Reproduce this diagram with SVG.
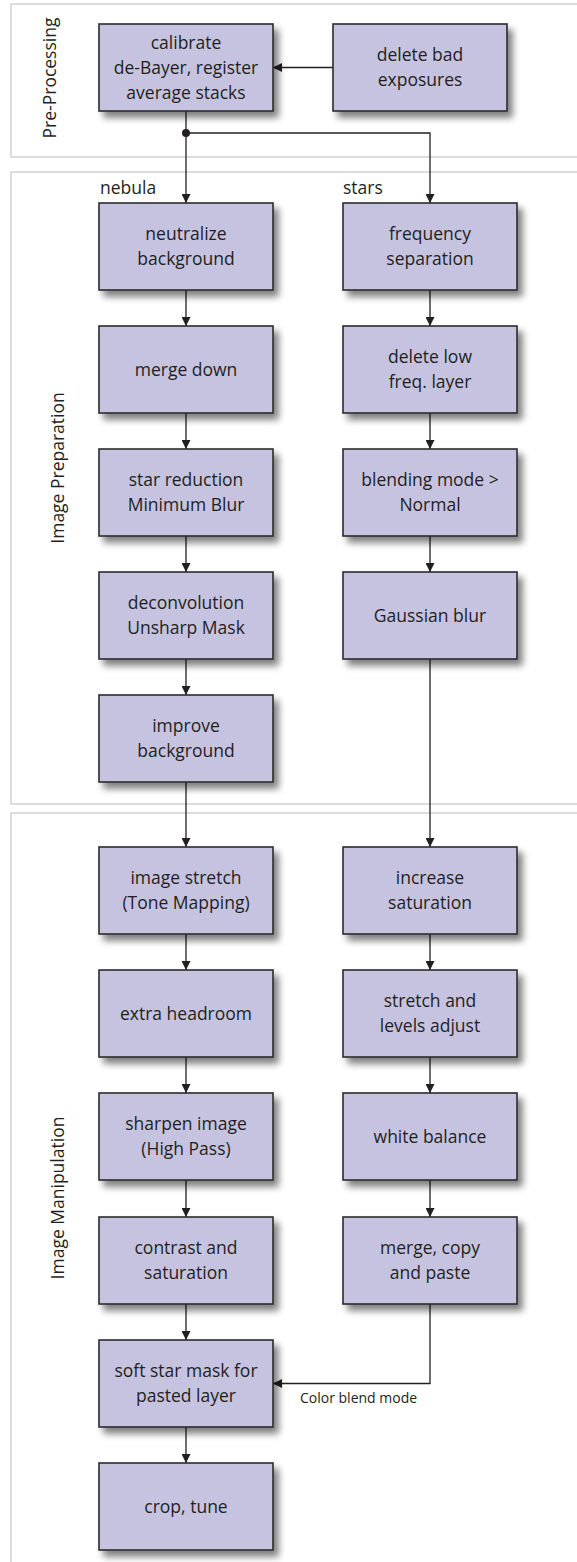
<svg xmlns="http://www.w3.org/2000/svg" width="577" height="1562" viewBox="0 0 577 1562">
<style>
.panel{fill:#fff;stroke:#dcdcdc;stroke-width:2}
.box{fill:#c6c3e0;stroke:#2b2b2b;stroke-width:1.6}
.t{font-family:"Open Sans","Noto Sans",sans-serif;font-size:17.5px;fill:#231f20;text-anchor:middle}
.pl{font-family:"Open Sans","Noto Sans",sans-serif;font-size:17.5px;fill:#231f20;text-anchor:middle}
.lb{font-family:"Open Sans","Noto Sans",sans-serif;font-size:17.5px;fill:#231f20}
.sm{font-family:"Open Sans","Noto Sans",sans-serif;font-size:14px;fill:#231f20}
.c{fill:none;stroke:#231f20;stroke-width:1.3}
</style>
<defs>
<filter id="sh" x="-20%" y="-20%" width="150%" height="160%">
<feGaussianBlur in="SourceAlpha" stdDeviation="3.5"/>
<feOffset dx="5" dy="6" result="b"/>
<feComponentTransfer><feFuncA type="linear" slope="0.5"/></feComponentTransfer>
<feMerge><feMergeNode/><feMergeNode in="SourceGraphic"/></feMerge>
</filter>
<marker id="ah" viewBox="0 0 10 10" refX="10" refY="5" markerWidth="10" markerHeight="9" markerUnits="userSpaceOnUse" orient="auto">
<path d="M0,0 L10,5 L0,10 Z" fill="#231f20"/>
</marker>
</defs>
<rect width="577" height="1562" fill="#fff"/>
<g id="panels">
<rect class="panel" x="11" y="4" width="600" height="153"/>
<rect class="panel" x="11" y="172" width="600" height="632"/>
<rect class="panel" x="11" y="813" width="600" height="800"/>
<text class="pl" transform="translate(56,78) rotate(-90)">Pre-Processing</text>
<text class="pl" transform="translate(64,468) rotate(-90)">Image Preparation</text>
<text class="pl" transform="translate(64,1198) rotate(-90)">Image Manipulation</text>
<text class="lb" x="100" y="194">nebula</text>
<text class="lb" x="343" y="194">stars</text>
</g>
<g id="connectors">
<line class="c" x1="333" y1="67.5" x2="273" y2="67.5" marker-end="url(#ah)"/>
<polyline class="c" points="186,111 186,203" marker-end="url(#ah)"/>
<polyline class="c" points="186,133 430,133 430,203" marker-end="url(#ah)"/>
<circle cx="186" cy="133" r="4" fill="#231f20"/>
<line class="c" x1="186" y1="290" x2="186" y2="326" marker-end="url(#ah)"/>
<line class="c" x1="186" y1="413" x2="186" y2="449" marker-end="url(#ah)"/>
<line class="c" x1="186" y1="536" x2="186" y2="572" marker-end="url(#ah)"/>
<line class="c" x1="186" y1="659" x2="186" y2="695" marker-end="url(#ah)"/>
<line class="c" x1="186" y1="782" x2="186" y2="847" marker-end="url(#ah)"/>
<line class="c" x1="430" y1="290" x2="430" y2="326" marker-end="url(#ah)"/>
<line class="c" x1="430" y1="413" x2="430" y2="449" marker-end="url(#ah)"/>
<line class="c" x1="430" y1="536" x2="430" y2="572" marker-end="url(#ah)"/>
<line class="c" x1="430" y1="659" x2="430" y2="847" marker-end="url(#ah)"/>
<line class="c" x1="186" y1="934" x2="186" y2="970" marker-end="url(#ah)"/>
<line class="c" x1="186" y1="1057" x2="186" y2="1093" marker-end="url(#ah)"/>
<line class="c" x1="186" y1="1180" x2="186" y2="1217" marker-end="url(#ah)"/>
<line class="c" x1="186" y1="1304" x2="186" y2="1340" marker-end="url(#ah)"/>
<line class="c" x1="186" y1="1427" x2="186" y2="1463" marker-end="url(#ah)"/>
<line class="c" x1="430" y1="934" x2="430" y2="970" marker-end="url(#ah)"/>
<line class="c" x1="430" y1="1057" x2="430" y2="1093" marker-end="url(#ah)"/>
<line class="c" x1="430" y1="1180" x2="430" y2="1217" marker-end="url(#ah)"/>
<polyline class="c" points="430,1304 430,1383.5 273,1383.5" marker-end="url(#ah)"/>
<text class="sm" x="300" y="1403">Color blend mode</text>
</g>
<g id="n-calibrate"><rect class="box" filter="url(#sh)" x="99" y="24" width="174" height="87"/><text class="t" x="186" y="49">calibrate</text><text class="t" x="186" y="74">de-Bayer, register</text><text class="t" x="186" y="99">average stacks</text></g>
<g id="n-delete"><rect class="box" filter="url(#sh)" x="333" y="24" width="174" height="87"/><text class="t" x="420" y="61">delete bad</text><text class="t" x="420" y="86">exposures</text></g>
<g id="n-neutralize"><rect class="box" filter="url(#sh)" x="99" y="203" width="174" height="87"/><text class="t" x="186" y="240">neutralize</text><text class="t" x="186" y="265">background</text></g>
<g id="n-merge-down"><rect class="box" filter="url(#sh)" x="99" y="326" width="174" height="87"/><text class="t" x="186" y="376">merge down</text></g>
<g id="n-star-reduction"><rect class="box" filter="url(#sh)" x="99" y="449" width="174" height="87"/><text class="t" x="186" y="486">star reduction</text><text class="t" x="186" y="511">Minimum Blur</text></g>
<g id="n-deconvolution"><rect class="box" filter="url(#sh)" x="99" y="572" width="174" height="87"/><text class="t" x="186" y="609">deconvolution</text><text class="t" x="186" y="634">Unsharp Mask</text></g>
<g id="n-improve"><rect class="box" filter="url(#sh)" x="99" y="695" width="174" height="87"/><text class="t" x="186" y="732">improve</text><text class="t" x="186" y="757">background</text></g>
<g id="n-freq"><rect class="box" filter="url(#sh)" x="343" y="203" width="174" height="87"/><text class="t" x="430" y="240">frequency</text><text class="t" x="430" y="265">separation</text></g>
<g id="n-delete-low"><rect class="box" filter="url(#sh)" x="343" y="326" width="174" height="87"/><text class="t" x="430" y="363">delete low</text><text class="t" x="430" y="388">freq. layer</text></g>
<g id="n-blending"><rect class="box" filter="url(#sh)" x="343" y="449" width="174" height="87"/><text class="t" x="430" y="486">blending mode &gt;</text><text class="t" x="430" y="511">Normal</text></g>
<g id="n-gaussian"><rect class="box" filter="url(#sh)" x="343" y="572" width="174" height="87"/><text class="t" x="430" y="622">Gaussian blur</text></g>
<g id="n-stretch"><rect class="box" filter="url(#sh)" x="99" y="847" width="174" height="87"/><text class="t" x="186" y="884">image stretch</text><text class="t" x="186" y="909">(Tone Mapping)</text></g>
<g id="n-headroom"><rect class="box" filter="url(#sh)" x="99" y="970" width="174" height="87"/><text class="t" x="186" y="1020">extra headroom</text></g>
<g id="n-sharpen"><rect class="box" filter="url(#sh)" x="99" y="1093" width="174" height="87"/><text class="t" x="186" y="1130">sharpen image</text><text class="t" x="186" y="1155">(High Pass)</text></g>
<g id="n-contrast"><rect class="box" filter="url(#sh)" x="99" y="1217" width="174" height="87"/><text class="t" x="186" y="1254">contrast and</text><text class="t" x="186" y="1279">saturation</text></g>
<g id="n-softstar"><rect class="box" filter="url(#sh)" x="99" y="1340" width="174" height="87"/><text class="t" x="186" y="1377">soft star mask for</text><text class="t" x="186" y="1402">pasted layer</text></g>
<g id="n-crop"><rect class="box" filter="url(#sh)" x="99" y="1463" width="174" height="87"/><text class="t" x="186" y="1513">crop, tune</text></g>
<g id="n-saturation"><rect class="box" filter="url(#sh)" x="343" y="847" width="174" height="87"/><text class="t" x="430" y="884">increase</text><text class="t" x="430" y="909">saturation</text></g>
<g id="n-levels"><rect class="box" filter="url(#sh)" x="343" y="970" width="174" height="87"/><text class="t" x="430" y="1007">stretch and</text><text class="t" x="430" y="1032">levels adjust</text></g>
<g id="n-white"><rect class="box" filter="url(#sh)" x="343" y="1093" width="174" height="87"/><text class="t" x="430" y="1143">white balance</text></g>
<g id="n-merge-copy"><rect class="box" filter="url(#sh)" x="343" y="1217" width="174" height="87"/><text class="t" x="430" y="1254">merge, copy</text><text class="t" x="430" y="1279">and paste</text></g>
</svg>
